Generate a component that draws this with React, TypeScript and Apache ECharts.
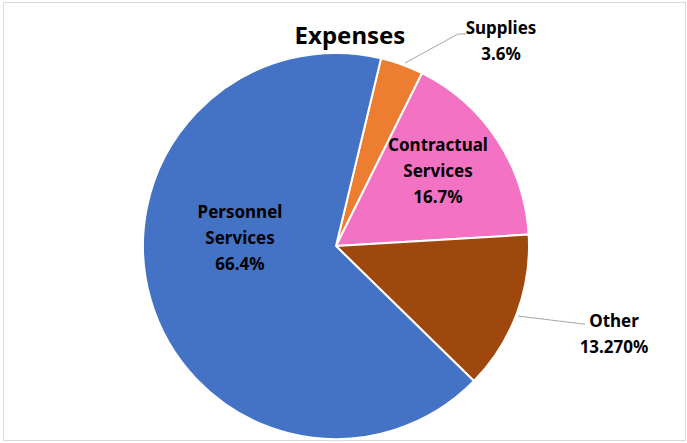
import React, { useEffect, useRef } from "react";
import * as echarts from "echarts";

const categories = ["Supplies", "Contractual\nServices", "Other", "Personnel\nServices"];
const values = [3.6, 16.7, 13.27, 66.4];
const percentLabels = ["3.6%", "16.7%", "13.270%", "66.4%"];
const colors = ["#ED7D31", "#F472C4", "#9E480E", "#4472C4"];

const FONT = "'Noto Sans', 'Open Sans', sans-serif";

export default function App() {
  const ref = useRef<HTMLDivElement>(null);
  useEffect(() => {
    if (!ref.current) return;
    const chart = echarts.init(ref.current, null, { renderer: "svg" });
    // label anchor points (layout only)
    const labelPos: Record<number, { x: number; y: number; line?: number[][] }> = {
      0: { x: 501, y: 40, line: [[405, 63], [458, 34], [466, 34]] },
      1: { x: 438, y: 170 },
      2: { x: 614, y: 333, line: [[518, 316], [583, 324], [585, 324]] },
      3: { x: 240, y: 237 },
    };
    chart.setOption({
      animation: false,
      backgroundColor: "#ffffff",
      title: {
        text: "Expenses",
        left: 345,
        top: 17,
        textAlign: "center",
        textStyle: { fontFamily: FONT, fontWeight: "bold", fontSize: 24, color: "#000" },
      },
      graphic: [
        {
          type: "rect",
          shape: { x: 3.5, y: 2.5, width: 682, height: 438 },
          style: { fill: "none", stroke: "#d9d9d9", lineWidth: 1 },
          silent: true,
        },
      ],
      series: [
        {
          type: "pie",
          center: [336, 246],
          radius: [0, 193],
          startAngle: 76.5,
          clockwise: true,
          avoidLabelOverlap: false,
          itemStyle: { borderColor: "#ffffff", borderWidth: 2 },
          label: {
            fontFamily: FONT,
            fontWeight: "bold",
            fontSize: 17,
            lineHeight: 26,
            color: "#000",
            align: "center",
          },
          labelLine: {
            lineStyle: { color: "#a6a6a6", width: 1 },
          },
          labelLayout: (params: any) => {
            const p = labelPos[params.dataIndex];
            const out: any = { x: p.x, y: p.y, align: "center", verticalAlign: "middle" };
            if (p.line) out.labelLinePoints = p.line;
            return out;
          },
          data: categories.map((name, i) => ({
            name,
            value: values[i],
            itemStyle: { color: colors[i] },
            label: {
              show: true,
              position: i === 0 || i === 2 ? "outside" : "inside",
              formatter: name + "\n" + percentLabels[i],
            },
            labelLine: { show: i === 0 || i === 2 },
          })),
        },
      ],
    });
    return () => chart.dispose();
  }, []);
  return (
    <div
      ref={ref}
      style={{ position: "fixed", left: 0, top: 0, width: 687, height: 443 }}
    />
  );
}
